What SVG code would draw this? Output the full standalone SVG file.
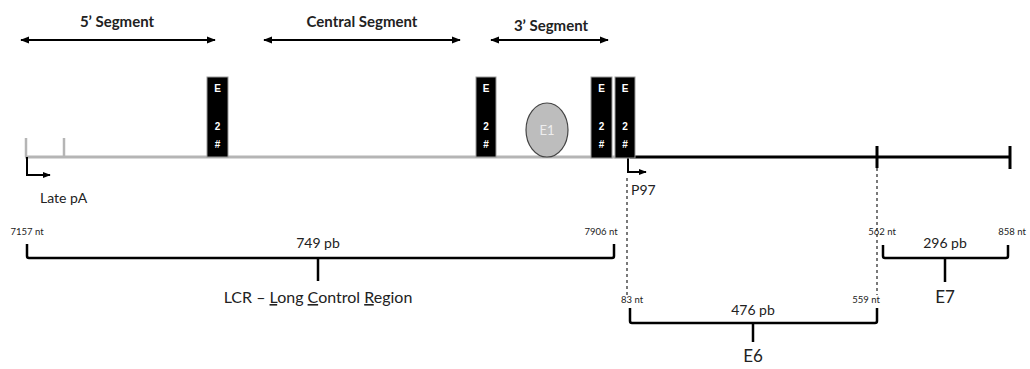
<svg xmlns="http://www.w3.org/2000/svg" width="1030" height="369" viewBox="0 0 1030 369">
<defs>
<marker id="dbl" viewBox="0 0 10 10" refX="9" refY="5" markerWidth="4.5" markerHeight="4.5" orient="auto-start-reverse"><path d="M0,1 L10,5 L0,9 Z" fill="#000"/></marker>
<marker id="arr" viewBox="0 0 10 10" refX="9" refY="5" markerWidth="4" markerHeight="4" orient="auto"><path d="M0,1 L10,5 L0,9 Z" fill="#000"/></marker>
<style>
text{font-family:Lato,"Liberation Sans",sans-serif;fill:#222}
.seg{font-size:15px;font-weight:bold;text-anchor:middle}
.lbl{font-size:14px}
.nt{font-size:9.5px;text-anchor:middle}
.pb{font-size:14px;text-anchor:middle}
.big{font-size:17px;text-anchor:middle}
.box{fill:#000;stroke:#999;stroke-width:1}
.bt{font-family:"Liberation Sans",sans-serif;font-size:10px;font-weight:bold;fill:#fff;text-anchor:middle}
.brk{fill:none;stroke:#000;stroke-width:2.5;stroke-linejoin:round}
.dash{stroke:#222;stroke-width:1.2;stroke-dasharray:3,3}
</style>
</defs>
<g id="segments">
<text class="seg" x="117" y="27">5’ Segment</text>
<text class="seg" x="362" y="27">Central Segment</text>
<text class="seg" x="551" y="31">3’ Segment</text>
<line x1="21" y1="40" x2="215" y2="40" stroke="#000" stroke-width="2" marker-start="url(#dbl)" marker-end="url(#dbl)"/>
<line x1="264" y1="40" x2="460" y2="40" stroke="#000" stroke-width="2" marker-start="url(#dbl)" marker-end="url(#dbl)"/>
<line x1="491" y1="40" x2="608" y2="40" stroke="#000" stroke-width="2" marker-start="url(#dbl)" marker-end="url(#dbl)"/>
</g>
<g id="connectors">
<line x1="25" y1="157" x2="630" y2="157" stroke="#b5b5b5" stroke-width="3"/>
<line x1="630" y1="157" x2="1010" y2="157" stroke="#000" stroke-width="3"/>
<line x1="26" y1="138" x2="26" y2="157" stroke="#b5b5b5" stroke-width="2.5"/>
<line x1="64" y1="138" x2="64" y2="157" stroke="#b5b5b5" stroke-width="2.5"/>
<line x1="877" y1="146" x2="877" y2="168" stroke="#000" stroke-width="3"/>
<line x1="1010" y1="146" x2="1010" y2="169" stroke="#000" stroke-width="3"/>
<path d="M27,157 V175 H50" fill="none" stroke="#000" stroke-width="2" marker-end="url(#arr)"/>
<path d="M628,157 V172 H646" fill="none" stroke="#000" stroke-width="2" marker-end="url(#arr)"/>
<line class="dash" x1="627" y1="178" x2="627" y2="298"/>
<line class="dash" x1="877" y1="168" x2="877" y2="295"/>
</g>
<g id="labels">
<text class="lbl" x="40" y="203">Late pA</text>
<text class="lbl" x="631" y="195">P97</text>
</g>
<g id="e2-1"><rect class="box" x="207" y="77" width="21" height="80"/><text class="bt" x="217.5" y="92">E</text><text class="bt" x="217.5" y="130">2</text><text class="bt" x="217.5" y="148">#</text></g>
<g id="e2-2"><rect class="box" x="476" y="77" width="20" height="80"/><text class="bt" x="486" y="92">E</text><text class="bt" x="486" y="130">2</text><text class="bt" x="486" y="148">#</text></g>
<g id="e2-3"><rect class="box" x="591" y="77" width="21" height="81"/><text class="bt" x="601.5" y="92">E</text><text class="bt" x="601.5" y="130">2</text><text class="bt" x="601.5" y="148">#</text></g>
<g id="e2-4"><rect class="box" x="615" y="77" width="20" height="81"/><text class="bt" x="625" y="92">E</text><text class="bt" x="625" y="130">2</text><text class="bt" x="625" y="148">#</text></g>
<g id="e1"><ellipse cx="547" cy="130" rx="21" ry="27" fill="#bdbdbd" stroke="#444" stroke-width="1.2"/><text x="547" y="135" font-size="13" text-anchor="middle" style="fill:#eee">E1</text></g>
<g id="lcr">
<text class="nt" x="27" y="235">7157 nt</text>
<text class="nt" x="601" y="235">7906 nt</text>
<text class="pb" x="318" y="248">749 pb</text>
<path class="brk" d="M27,244 V256 Q27,258 29,258 H612 Q614,258 614,256 V244 M318,258 V281"/>
<text class="big" x="318" y="303" style="font-size:16px">LCR – <tspan text-decoration="underline">L</tspan>ong <tspan text-decoration="underline">C</tspan>ontrol <tspan text-decoration="underline">R</tspan>egion</text>
</g>
<g id="e6">
<text class="nt" x="632" y="303">83 nt</text>
<text class="nt" x="866" y="303">559 nt</text>
<text class="pb" x="753" y="315">476 pb</text>
<path class="brk" d="M630,308 V321 Q630,323 632,323 H875 Q877,323 877,321 V308 M753,323 V342"/>
<text class="big" x="753" y="362">E6</text>
</g>
<g id="e7">
<text class="nt" x="882" y="235">562 nt</text>
<text class="nt" x="1012" y="235">858 nt</text>
<text class="pb" x="945" y="248">296 pb</text>
<path class="brk" d="M883,245 V256 Q883,258 885,258 H1006 Q1008,258 1008,256 V245 M945,258 V282"/>
<text class="big" x="945" y="303">E7</text>
</g>
</svg>
